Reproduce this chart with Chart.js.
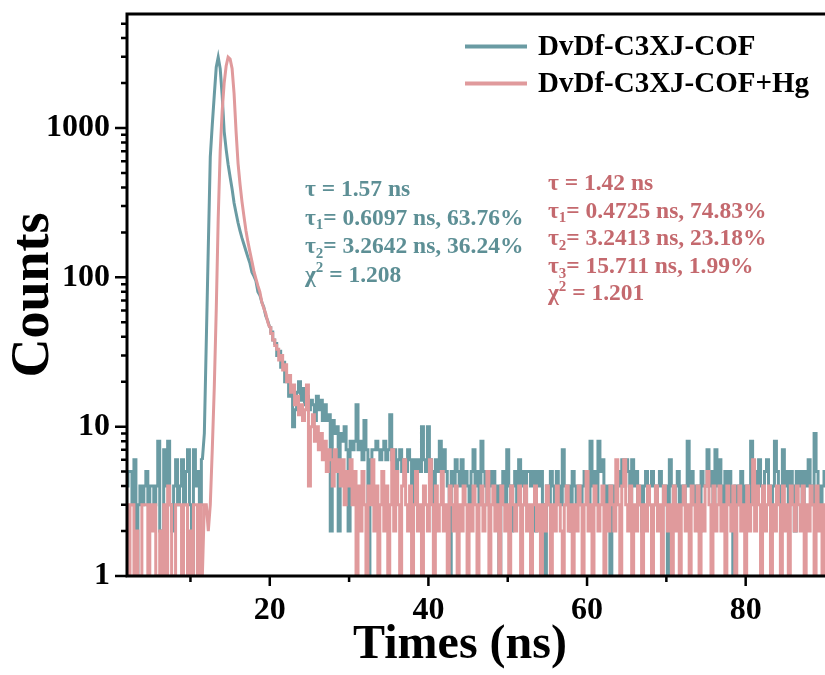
<!DOCTYPE html>
<html><head><meta charset="utf-8">
<script src="https://cdn.jsdelivr.net/npm/chart.js@4.4.0/dist/chart.umd.min.js"></script>
<style>html,body{margin:0;padding:0;background:#fff;}canvas{display:block;}</style>
</head><body>
<canvas id="c" width="825" height="675"></canvas>
<script>
// ---- data ----
const seriesNames = ['DvDf-C3XJ-COF', 'DvDf-C3XJ-COF+Hg'];
const timeStart = 2.0;   // ns, first channel
const timeStep = 0.25;   // ns per channel
const cofCounts = [
  4,5,5,3,6,1,3,4,3,4,5,3,4,4,3,4,8,2,1,7,            // 2.0
  4,8,3,2,4,6,3,4,6,3,5,7,3,1,7,4,5,3,6,9,            // 7.0
  38,160,640,1050,1650,2550,2980,2500,1650,950,720,570,470,390,315,270,232,205,183,166, // 12.0
  150,136,124,108,102,95,80,76,68,63,55,51,46,43,38,36,30,32,25,27, // 17.0
  20,22,16,18,10,13,17,20,15,18,14,16,13,15,14,11,16,13,15,11,      // 22.0
  14,11,12,2,11,9,10,2,9,8,10,7,2,8,7,8,14,7,8,6,     // 27.0
  11,7,1,6,7,7,8,7,6,7,8,6,7,12,6,7,5,6,7,5,          // 32.0
  6,5,7,6,2,6,5,6,5,10,6,5,10,6,5,2,6,5,8,5,          // 37.0
  7,5,4,1,5,4,6,5,4,6,4,5,4,3,5,7,4,5,3,8,            // 42.0
  5,4,3,5,4,5,3,4,1,4,5,3,7,4,2,4,5,3,6,4,            // 47.0
  5,3,5,5,4,5,2,5,4,5,3,1,4,3,5,4,3,5,4,3,            // 52.0
  7,4,3,4,2,5,4,3,4,3,4,5,4,3,8,4,5,3,8,5,            // 57.0
  6,4,3,4,1,4,3,4,5,4,6,4,6,5,3,6,4,5,3,4,            // 62.0
  2,4,5,3,4,5,4,3,4,5,4,3,4,1,6,4,3,4,5,3,            // 67.0
  4,3,4,8,4,5,3,4,4,2,5,4,4,7,4,5,3,7,4,6,            // 72.0
  4,3,5,4,5,3,1,4,3,4,5,3,4,4,3,8,4,5,4,6,            // 77.0
  4,3,5,6,4,3,4,8,5,4,3,7,4,5,3,5,4,2,5,4,            // 82.0
  5,3,5,4,6,4,3,9,5,4,3,4,5                           // 87.0
];
const hgCounts = [
  3,1,3,3,1,2,1,1,3,3,3,1,3,2,3,1,1,2,1,3,            // 2.0
  1,4,3,1,1,3,3,3,1,3,3,1,2,1,3,3,1,3,1,3,            // 7.0
  3,2,3,7,18,60,250,700,1300,2000,2600,2980,2900,2500,1700,950,580,420,320,255, // 12.0
  205,172,148,128,110,98,88,80,68,62,57,50,46,42,38,35,33,28,30,24, // 17.0
  26,20,22,17,19,14,16,12,14,11,13,19,4,10,12,8,10,7,9,6,  // 22.0
  8,5,7,6,4,7,5,6,4,6,3,5,4,6,3,5,1,4,2,5,            // 27.0
  3,1,4,3,6,2,4,1,3,5,2,4,1,3,7,2,5,3,1,4,            // 32.0
  6,3,2,4,1,3,5,2,3,1,4,3,2,6,3,1,4,2,3,5,            // 37.0
  2,3,1,4,3,2,4,1,3,2,4,3,1,3,2,4,3,1,3,4,            // 42.0
  2,3,5,1,3,4,2,3,1,4,3,2,3,1,4,3,2,3,4,1,            // 47.0
  3,4,2,3,1,3,4,2,3,1,3,2,4,3,1,3,2,4,3,2,            // 52.0
  1,3,4,2,3,1,3,2,4,3,1,3,5,2,3,1,4,3,2,3,            // 57.0
  4,1,3,2,4,3,2,6,3,1,4,6,3,2,4,1,3,2,4,3,            // 62.0
  1,3,2,4,3,1,3,4,2,3,1,4,3,2,3,1,4,2,3,1,            // 67.0
  3,4,2,3,1,4,3,2,4,1,3,2,4,5,3,1,4,2,3,4,            // 72.0
  2,3,1,4,3,2,4,1,3,4,2,3,1,4,2,3,6,2,4,3,            // 77.0
  1,4,2,3,4,1,3,2,4,3,1,4,2,3,1,4,3,2,4,3,            // 82.0
  2,4,1,3,2,4,3,1,4,2,3,1,3                           // 87.0
];
const xTickValues = [20, 40, 60, 80];
const yTickValues = [1, 10, 100, 1000];
const xTitle = 'Times (ns)';
const yTitle = 'Counts';
const cofFitLines = ['τ = 1.57 ns', 'τ_1= 0.6097 ns, 63.76%', 'τ_2= 3.2642 ns, 36.24%', 'χ^2 = 1.208'];
const hgFitLines = ['τ = 1.42 ns', 'τ_1= 0.4725 ns, 74.83%', 'τ_2= 3.2413 ns, 23.18%', 'τ_3= 15.711 ns, 1.99%', 'χ^2 = 1.201'];

// ---- styling ----
const FONT = '"Liberation Serif", "Times New Roman", serif';
const TEAL = '#6a9ba3', PINK = '#e09a9c';
const TEAL_TXT = '#5d8f95', PINK_TXT = '#c4696e';
// the pulse (high-count part) is drawn as a smooth polyline, the noisy rest as a histogram
const PULSE_FROM = 11.5, PULSE_TO = 20.0;

function toPoints(arr, pulse) {
  return arr.map((v, i) => {
    const t = timeStart + i * timeStep;
    const inPulse = t >= PULSE_FROM && t <= PULSE_TO;
    const edge = t === PULSE_FROM || t === PULSE_TO;
    const keep = pulse ? inPulse : (!inPulse || edge);
    return {x: t, y: keep ? v : null};
  });
}

function drawRich(ctx, x, y, s, size) {
  let i = 0;
  while (i < s.length) {
    const ch = s[i];
    if ((ch === '_' || ch === '^') && i + 1 < s.length) {
      const c = s[i + 1];
      ctx.font = `bold ${Math.round(size * 0.62)}px ${FONT}`;
      const dy = ch === '_' ? size * 0.2 : -size * 0.4;
      ctx.fillText(c, x, y + dy);
      x += ctx.measureText(c).width;
      i += 2;
    } else {
      let j = i;
      while (j < s.length && s[j] !== '_' && s[j] !== '^') j++;
      const run = s.slice(i, j);
      ctx.font = `bold ${size}px ${FONT}`;
      ctx.fillText(run, x, y);
      x += ctx.measureText(run).width;
      i = j;
    }
  }
}

const legendItems = [{label: seriesNames[0], color: TEAL}, {label: seriesNames[1], color: PINK}];

const framePlugin = {
  id: 'frame',
  afterDatasetsDraw(chart) {
    const {ctx, chartArea: a, scales: {x, y}} = chart;
    ctx.save();
    ctx.strokeStyle = '#000';
    ctx.lineWidth = 3;
    ctx.beginPath();
    ctx.moveTo(a.left - 1.5, a.top); ctx.lineTo(a.right, a.top);
    ctx.moveTo(a.left, a.top); ctx.lineTo(a.left, a.bottom + 1.5);
    ctx.moveTo(a.left - 1.5, a.bottom); ctx.lineTo(a.right, a.bottom);
    ctx.stroke();
    ctx.lineWidth = 2.5;
    ctx.beginPath();
    for (let e = 0; e <= 4; e++) {
      for (let m = 1; m <= 9; m++) {
        const v = m * Math.pow(10, e);
        if (v > y.max) break;
        const py = y.getPixelForValue(v);
        ctx.moveTo(a.left, py); ctx.lineTo(a.left - (m === 1 ? 12 : 6), py);
      }
    }
    for (let v = 10; v < x.max; v += 10) {
      const px = x.getPixelForValue(v);
      const major = xTickValues.includes(v);
      ctx.moveTo(px, a.bottom); ctx.lineTo(px, a.bottom + (major ? 10 : 6));
    }
    ctx.stroke();
    ctx.restore();
  },
  afterDraw(chart) {
    const {ctx} = chart;
    ctx.save();
    ctx.fillStyle = '#000';
    ctx.font = `bold 48px ${FONT}`;
    ctx.textAlign = 'center';
    ctx.textBaseline = 'middle';
    ctx.fillText(xTitle, 460, 646);
    ctx.textAlign = 'left';
    legendItems.forEach((it, k) => {
      const cy = 46.5 + k * 37;
      ctx.strokeStyle = it.color;
      ctx.lineWidth = 4;
      ctx.beginPath(); ctx.moveTo(465, cy); ctx.lineTo(527, cy); ctx.stroke();
      ctx.fillStyle = '#000';
      ctx.font = `bold 29px ${FONT}`;
      ctx.textBaseline = 'middle';
      ctx.fillText(it.label, 538, cy + 1);
    });
    ctx.textBaseline = 'alphabetic';
    ctx.fillStyle = TEAL_TXT;
    cofFitLines.forEach((s, i) => drawRich(ctx, 305, 196 + i * 28.5, s, 23.5));
    ctx.fillStyle = PINK_TXT;
    hgFitLines.forEach((s, i) => drawRich(ctx, 548, 190 + i * 27.6, s, 23.5));
    ctx.restore();
  }
};

const lineStyle = {borderWidth: 3, pointRadius: 0, tension: 0, fill: false, spanGaps: false};

new Chart(document.getElementById('c'), {
  type: 'line',
  data: {
    datasets: [
      {...lineStyle, label: seriesNames[0], data: toPoints(cofCounts, false), borderColor: TEAL, stepped: 'middle', order: 3},
      {...lineStyle, label: seriesNames[0], data: toPoints(cofCounts, true), borderColor: TEAL, order: 2},
      {...lineStyle, label: seriesNames[1], data: toPoints(hgCounts, false), borderColor: PINK, stepped: 'middle', order: 1},
      {...lineStyle, label: seriesNames[1], data: toPoints(hgCounts, true), borderColor: PINK, order: 0}
    ]
  },
  options: {
    responsive: false,
    animation: false,
    devicePixelRatio: 1,
    layout: {padding: {top: 14, right: 0, left: 0, bottom: 0}},
    plugins: {legend: {display: false}, tooltip: {enabled: false}},
    scales: {
      x: {
        type: 'linear', min: 2, max: 90,
        grid: {display: false, drawTicks: false},
        border: {display: false},
        afterBuildTicks: s => { s.ticks = xTickValues.map(v => ({value: v})); },
        afterFit: s => { s.height = 99; s.paddingLeft = 0; s.paddingRight = 0; s.paddingTop = 0; s.paddingBottom = 0; },
        ticks: {color: '#000', padding: 16, font: {family: FONT, size: 32, weight: 'bold'},
                maxRotation: 0, autoSkip: false, callback: v => String(v)},
        title: {display: false, text: xTitle}
      },
      y: {
        type: 'logarithmic', min: 1, max: 5800,
        grid: {display: false, drawTicks: false},
        border: {display: false},
        afterBuildTicks: s => { s.ticks = yTickValues.map(v => ({value: v})); },
        afterFit: s => { s.width = 127; s.paddingTop = 0; s.paddingBottom = 0; s.paddingLeft = 0; s.paddingRight = 0; },
        ticks: {color: '#000', padding: 17, font: {family: FONT, size: 32, weight: 'bold'},
                autoSkip: false, callback: v => String(v)},
        title: {display: true, text: yTitle, color: '#000',
                font: {family: FONT, size: 54, weight: 'bold'}, padding: {top: 2, bottom: 0}}
      }
    }
  },
  plugins: [framePlugin]
});
</script>
</body></html>
